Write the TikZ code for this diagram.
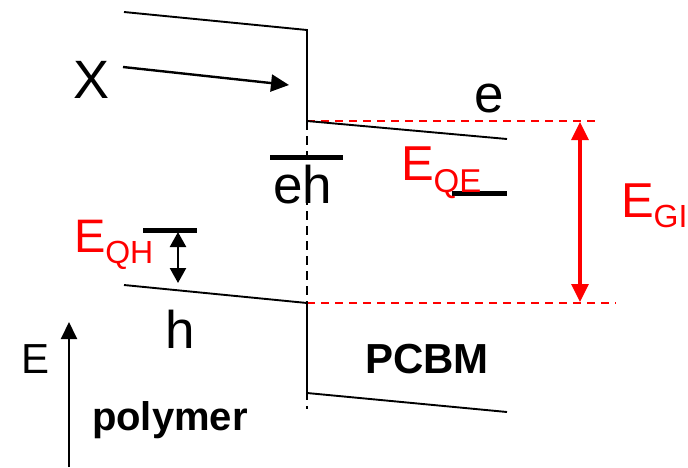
\documentclass[tikz,border=0pt]{standalone}
\usepackage{fontspec}
\setmainfont{Liberation Sans}
\usetikzlibrary{arrows.meta}
\tikzset{
  band/.style={line width=1.9pt},
  bar/.style={line width=5pt},
  reddash/.style={red,line width=1.9pt,dash pattern=on 8pt off 6pt},
  blackdash/.style={line width=1.5pt,dash pattern=on 9pt off 6pt},
  lbl/.style={anchor=base west,inner sep=0pt,outer sep=0pt},
}
\newcommand{\fs}[1]{\fontsize{#1}{#1}\selectfont}
\begin{document}
\begin{tikzpicture}[x=1pt,y=-1pt]
\useasboundingbox (0,0) rectangle (688,467);
% coordinates
\coordinate (pL1) at (124,12);
\coordinate (pL2) at (307,30);
\coordinate (cL1) at (307,121);
\coordinate (cL2) at (507,139);
\coordinate (pH1) at (124,285);
\coordinate (pH2) at (307,303);
\coordinate (cH1) at (307,393);
\coordinate (cH2) at (507,412);
\coordinate (dTop) at (307,121);
\coordinate (dBot) at (307,409);
\coordinate (rT2) at (599,121);
\coordinate (rB2) at (616,303);
\coordinate (gT) at (580,122);
\coordinate (gB) at (580,302);
\coordinate (xa1) at (123,67);
\coordinate (xa2) at (289,85);
\coordinate (eh1) at (270,157);
\coordinate (eh2) at (343,157);
\coordinate (qe1) at (452,193);
\coordinate (qe2) at (507,193);
\coordinate (qh1) at (143,230);
\coordinate (qh2) at (197,230);
\coordinate (qa1) at (178,232);
\coordinate (qa2) at (178,283);
\coordinate (ea1) at (69,467);
\coordinate (ea2) at (69,322);
% dashed lines
\draw[blackdash] (dTop) -- (dBot);
\draw[reddash] (cL1) -- (rT2);
\draw[reddash] (pH2) -- (rB2);
% bands
\draw[band] (pL1) -- (pL2) -- (cL1) -- (cL2);
\draw[band] (pH1) -- (pH2) -- (cH1) -- (cH2);
% levels
\draw[bar] (eh1) -- (eh2);
\draw[bar] (qe1) -- (qe2);
\draw[bar] (qh1) -- (qh2);
% arrows
\draw[line width=2.4pt,-{Triangle[length=18pt,width=17pt]}] (xa1) -- (xa2);
\draw[red,line width=3.2pt,{Triangle[length=18pt,width=17pt]}-{Triangle[length=18pt,width=17pt]}] (gT) -- (gB);
\draw[line width=2.4pt,{Triangle[length=15pt,width=16pt]}-{Triangle[length=15pt,width=16pt]}] (qa1) -- (qa2);
\draw[line width=2pt,-{Triangle[length=17pt,width=16pt]}] (ea1) -- (ea2);
% labels
\node[lbl] (X) at (73,98) {\fs{54}X};
\node[lbl] (e) at (474,112) {\fs{53}e};
\node[lbl] (eh) at (273,203) {\fs{53}eh};
\node[lbl] (h) at (165,348) {\fs{53}h};
\node[lbl] (E) at (21,373) {\fs{42}E};
\node[lbl,text=red] (EQE) at (401,180) {\fs{49}E\raisebox{-12pt}{\fs{33}QE}};
\node[lbl,text=red] (EGI) at (621,217) {\fs{49}E\raisebox{-10pt}{\fs{32}GI}};
\node[lbl,text=red] (EQH) at (74,252) {\fs{47}E\raisebox{-11pt}{\fs{32}QH}};
\node[lbl] (poly) at (92,430) {\fs{40}\bfseries polymer};
\node[lbl] (pcbm) at (365,373) {\fs{42}\bfseries PCBM};
\end{tikzpicture}
\end{document}
